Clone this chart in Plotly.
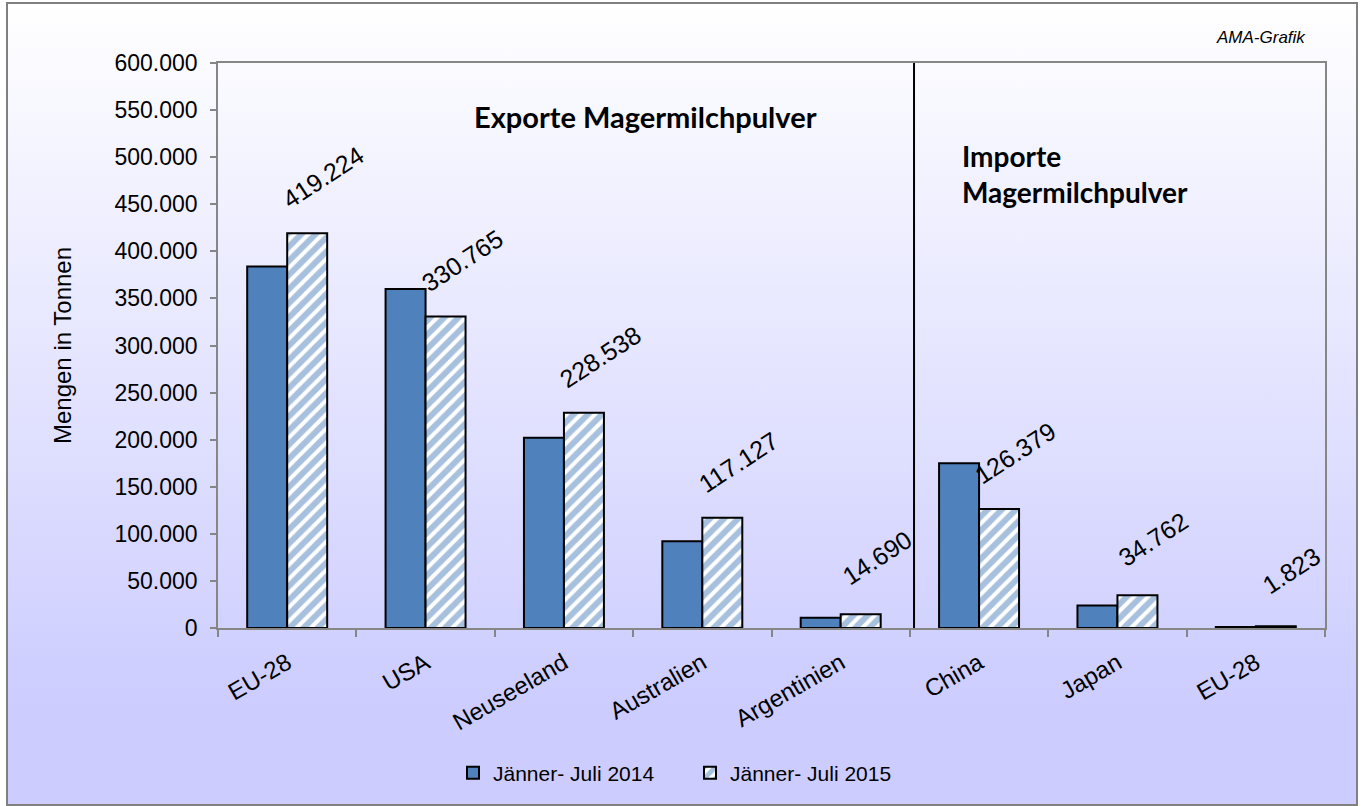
import base64
import plotly.graph_objects as go

# ---- data ----
categories = ["EU-28", "USA", "Neuseeland", "Australien", "Argentinien", "China", "Japan", "EU-28"]
series_names = ["Jänner- Juli 2014", "Jänner- Juli 2015"]
values_2014 = [384000, 360000, 202000, 92000, 11000, 175000, 24000, 1000]
values_2015 = [419224, 330765, 228538, 117127, 14690, 126379, 34762, 1823]
label_2015 = ["419.224", "330.765", "228.538", "117.127", "14.690", "126.379", "34.762", "1.823"]
y_ticks = list(range(0, 600001, 50000))

BLUE = "#4F81BD"
FONT = "Liberation Sans, Arial, sans-serif"
BOLD_FONT = "Lato, Open Sans, sans-serif"

W, H = 1364, 806
L, R, T, B = 218, 39, 63, 178
PW, PH = W - L - R, H - T - B

x_pos = list(range(len(categories)))

fig = go.Figure()
fig.add_trace(go.Bar(
    x=x_pos, y=values_2014, name=series_names[0],
    marker=dict(color=BLUE, line=dict(color="black", width=2)),
))
fig.add_trace(go.Bar(
    x=x_pos, y=values_2015, name=series_names[1],
    marker=dict(color="white", line=dict(color="black", width=2),
                pattern=dict(shape="/", fgcolor=BLUE, bgcolor="white", size=10, solidity=0.6)),
))

# data labels for 2015 series (rotated)
bar_half = 0.289 / 2
for i, (v, t) in enumerate(zip(values_2015, label_2015)):
    fig.add_annotation(x=i + bar_half, y=v, xref="x", yref="y", text=t, showarrow=False,
                       textangle=-33, xanchor="center", yanchor="middle",
                       xshift=16, yshift=56,
                       font=dict(family=FONT, size=25, color="black"))

# background gradient as an SVG image covering the chart area
svg = ("<svg xmlns='http://www.w3.org/2000/svg' width='1351' height='803' viewBox='0 0 1351 803' "
       "preserveAspectRatio='none'><defs><linearGradient id='g' x1='0' y1='0' x2='0' y2='1'>"
       "<stop offset='0' stop-color='#ffffff'/><stop offset='0.88' stop-color='#ccccff'/>"
       "<stop offset='1' stop-color='#ccccff'/></linearGradient></defs>"
       "<rect x='1' y='1' width='1349' height='801' fill='url(#g)' stroke='#808080' stroke-width='2'/></svg>")
src = "data:image/svg+xml;base64," + base64.b64encode(svg.encode()).decode()
bx0, bx1, by0, by1 = 6, 1358, 2, 806
fig.add_layout_image(dict(source=src, xref="paper", yref="paper",
                          x=(bx0 - L) / PW, y=1 - (by0 - T) / PH,
                          sizex=(bx1 - bx0) / PW, sizey=(by1 - by0) / PH,
                          xanchor="left", yanchor="top", sizing="stretch", layer="below"))

# separator line between exports and imports
fig.add_shape(type="line", xref="x", yref="paper", x0=4.53, x1=4.53, y0=0, y1=1,
              line=dict(color="black", width=2), layer="above")

fig.add_annotation(xref="paper", yref="paper", x=(645 - L) / PW, y=1 - (117 - T) / PH,
                   text="<b>Exporte Magermilchpulver</b>", showarrow=False,
                   xanchor="center", yanchor="middle",
                   font=dict(family=BOLD_FONT, size=29, color="black"))
fig.add_annotation(xref="paper", yref="paper", x=(960 - L) / PW, y=1 - (174 - T) / PH,
                   text="<b>Importe<br>Magermilchpulver</b>", showarrow=False, align="left",
                   xanchor="left", yanchor="middle",
                   font=dict(family=BOLD_FONT, size=28, color="black"))
fig.add_annotation(xref="paper", yref="paper", x=(1308 - L) / PW, y=1 - (38 - T) / PH,
                   text="<i>AMA-Grafik</i>", showarrow=False, xanchor="right", yanchor="middle",
                   font=dict(family=FONT, size=17, color="black"))

fig.update_layout(
    width=W, height=H,
    margin=dict(l=L, r=R, t=T, b=B),
    paper_bgcolor="white",
    plot_bgcolor="rgba(0,0,0,0)",
    barmode="group", bargap=0.422, bargroupgap=0,
    separators=",.",
    font=dict(family=FONT, size=21, color="black"),
    showlegend=True,
    legend=dict(orientation="h", x=0.5 + 8 / W, xanchor="center", xref="container",
                y=(H - 773) / H, yref="container", yanchor="middle",
                bgcolor="rgba(0,0,0,0)", font=dict(family=FONT, size=21, color="black"),
                itemwidth=30, entrywidth=192, entrywidthmode="pixels", traceorder="normal"),
    xaxis=dict(range=[-0.5, len(categories) - 0.5], tickmode="array", tickvals=x_pos,
               ticktext=categories, tickangle=-30, ticks="", showgrid=False, zeroline=False,
               showline=True, linecolor="#868686", linewidth=1.5, mirror=True,
               ticklabelstandoff=10,
               tickfont=dict(family=FONT, size=24, color="black"),
               minor=dict(tickmode="array", tickvals=[i - 0.5 for i in range(len(categories) + 1)],
                          ticks="outside", ticklen=7, tickcolor="#868686", tickwidth=1.5, showgrid=False)),
    yaxis=dict(range=[0, 600000], tickmode="array", tickvals=y_ticks, tickformat=",.0f",
               ticks="outside", ticklen=6, tickcolor="#868686", tickwidth=1.5,
               showgrid=False, zeroline=False, showline=True, linecolor="#868686", linewidth=1.5,
               mirror=True, ticklabelstandoff=8, tickfont=dict(family=FONT, size=23, color="black"),
               title=dict(text="Mengen in Tonnen", font=dict(family=FONT, size=24, color="black"),
                          standoff=36)),
)

fig.write_html("out.html", post_script="document.body.style.margin='0';",
               config={"displayModeBar": False})
